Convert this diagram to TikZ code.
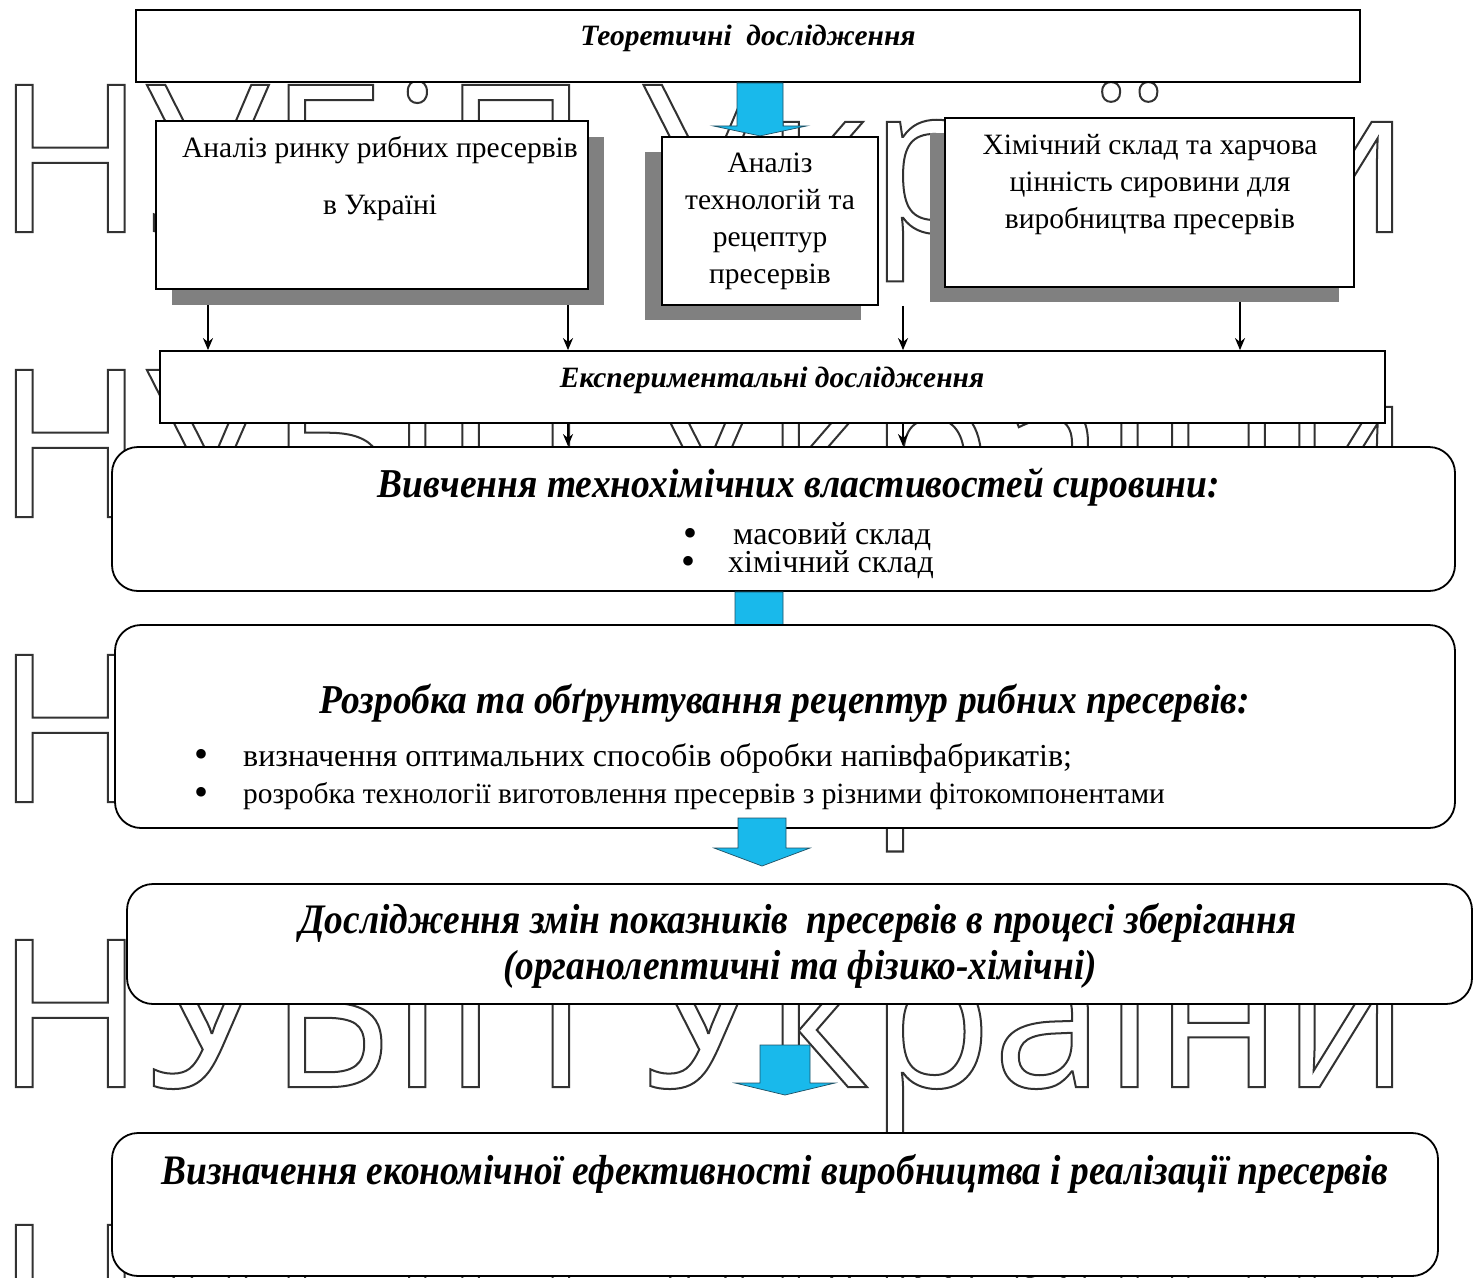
\documentclass[tikz,border=0pt]{standalone}
\usepackage{fontspec}
\setmainfont{Liberation Serif}
\newfontfamily\wmfont[FakeStretch=0.974]{Open Sans}
\newfontfamily\hdfontA[FakeStretch=0.915]{Liberation Serif}
\newfontfamily\hdfontB[FakeStretch=0.89]{Liberation Serif}
\usetikzlibrary{arrows.meta,calc}
\definecolor{arrowblue}{RGB}{25,185,235}
\definecolor{arrowedge}{RGB}{30,80,100}
\definecolor{shadowgray}{RGB}{128,128,128}
\definecolor{wmline}{RGB}{50,50,50}
\newcommand\outlinetext[1]{\special{pdf:literal direct 1 Tr 2 w}#1\special{pdf:literal direct 0 Tr}}
\newcommand\blockarrow[5]{%
  \filldraw[blockarr] ($(#1)+(-#2,0)$) -- ($(#1)+(#2,0)$) -- ($(#1)+(#2,#3)$) -- ($(#1)+(#4,#3)$) -- ($(#1)+(0,#3+#5)$) -- ($(#1)+(-#4,#3)$) -- ($(#1)+(-#2,#3)$) -- cycle;}
\begin{document}
\begin{tikzpicture}[x=1pt,y=-1pt,
  box/.style={draw,line width=1.8pt,fill=white,inner sep=0pt},
  rbox/.style={box,rounded corners=26pt},
  shadowbox/.style={fill=shadowgray,inner sep=0pt},
  blockarr/.style={fill=arrowblue,draw=arrowedge,line width=0.7pt},
  smallarr/.style={line width=2pt,-{Stealth[length=12pt,width=10pt]}},
  wm/.style={inner sep=0pt,text=wmline,font=\wmfont\fontsize{206}{206}\selectfont},
  ttl/.style={inner sep=0pt,font=\bfseries\itshape\fontsize{29.5}{34}\selectfont},
  hd/.style={inner sep=0pt,font=\hdfontA\bfseries\itshape\fontsize{41}{48}\selectfont},
  hdb/.style={inner sep=0pt,font=\hdfontB\bfseries\itshape\fontsize{42}{48}\selectfont},
  body/.style={inner sep=0pt,align=center,font=\fontsize{29.5}{37}\selectfont},
  item/.style={inner sep=0pt,font=\fontsize{32}{36}\selectfont},
  bul/.style={inner sep=0pt,font=\fontsize{40}{40}\selectfont},
]
\useasboundingbox (0,0) rectangle (1479,1277);
\fill[white] (0,0) rectangle (1479,1277);
% watermark
\foreach \yy/\nm in {232/wmA,517/wmB,802/wmC,1087/wmD,1372/wmE}
  \node[wm,anchor=base west] (\nm) at (-4,\yy) {\outlinetext{НУБіП України}};
% top box
\node[box,minimum width=1224pt,minimum height=72pt] (teor) at (748,46) {};
\node[ttl] (teort) at (748,38) {Теоретичні\ \ дослідження};
% shadows
\node[shadowbox,minimum width=432pt,minimum height=168pt] (b1s) at (388,221) {};
\node[shadowbox,minimum width=216pt,minimum height=168pt] (b2s) at (753,236) {};
\node[shadowbox,minimum width=409pt,minimum height=169pt] (b3s) at (1134.5,217.5) {};
% arrow A
\coordinate (aA) at (teor.south -| 760,0);
\blockarrow{aA}{23}{43}{47}{10}
% boxes row
\node[box,minimum width=432pt,minimum height=168pt] (b1) at (372,205) {};
\node[body] (b1t1) at (380,150) {Аналіз ринку рибних пресервів};
\node[body] (b1t2) at (380,208) {в Україні};
\node[box,minimum width=216pt,minimum height=168pt] (b2) at (770,221) {};
\node[body] (b2t) at (770,221) {Аналіз\\технологій та\\рецептур\\пресервів};
\node[box,minimum width=409pt,minimum height=169pt] (b3) at (1149.5,202.5) {};
\node[body] (b3t) at (1150,185) {Хімічний склад та харчова\\цінність сировини для\\виробництва пресервів};
% experimental
\node[box,minimum width=1225pt,minimum height=72pt] (expt) at (772.5,387) {};
\node[ttl] (exptt) at (772,380) {Експериментальні дослідження};
\draw[smallarr] (b1s.south -| 208,0) -- (expt.north -| 208,0);
\draw[smallarr] (b1s.south -| 568,0) -- (expt.north -| 568,0);
\draw[smallarr] (b2.south -| 903,0) -- (expt.north -| 903,0);
\draw[smallarr] (b3s.south -| 1240,0) -- (expt.north -| 1240,0);
% study box
\node[rbox,minimum width=1343pt,minimum height=144pt] (vyv) at (783.5,519) {};
\draw[smallarr] (expt.south -| 568,0) -- (vyv.north -| 568,0);
\draw[smallarr] (expt.south -| 903,0) -- (vyv.north -| 903,0);
\node[hd] (vyvt) at (799,487) {Вивчення технохімічних властивостей сировини:};
\node[bul] (vb1) at (690,537) {•};
\node[item,anchor=west] (vi1) at (733,537) {масовий склад};
\node[bul] (vb2) at (688,565) {•};
\node[item,anchor=west] (vi2) at (728,565) {хімічний склад};
% arrow B
\coordinate (aB) at (vyv.south -| 759,0);
\blockarrow{aB}{24}{40}{48}{10}
% development box
\node[rbox,minimum width=1340pt,minimum height=203pt] (roz) at (785,726.5) {};
\node[hd] (rozt) at (785,703) {Розробка та обґрунтування рецептур рибних пресервів:};
\node[bul] (rb1) at (201,758) {•};
\node[item,anchor=west] (ri1) at (243,758) {визначення оптимальних способів обробки напівфабрикатів;};
\node[bul] (rb2) at (201,796) {•};
\node[item,anchor=west,font=\fontsize{29.4}{32}\selectfont] (ri2) at (243,796) {розробка технології виготовлення пресервів з різними фітокомпонентами};
% arrow C
\coordinate (aC) at (762,818);
\blockarrow{aC}{24}{30}{48}{18}
% storage box
\node[rbox,minimum width=1345pt,minimum height=120pt] (dos) at (799.5,944) {};
\node[hdb] (dost1) at (798,923) {Дослідження змін показників\ \ пресервів в процесі зберігання};
\node[hdb] (dost2) at (800,969) {(органолептичні та фізико-хімічні)};
% arrow D
\coordinate (aD) at (785,1045);
\blockarrow{aD}{25}{38}{50}{12}
% economics box
\node[rbox,minimum width=1326pt,minimum height=143pt] (viz) at (775,1204.5) {};
\node[hdb] (vizt) at (775,1174) {Визначення економічної ефективності виробництва і реалізації пресервів};
\end{tikzpicture}
\end{document}
